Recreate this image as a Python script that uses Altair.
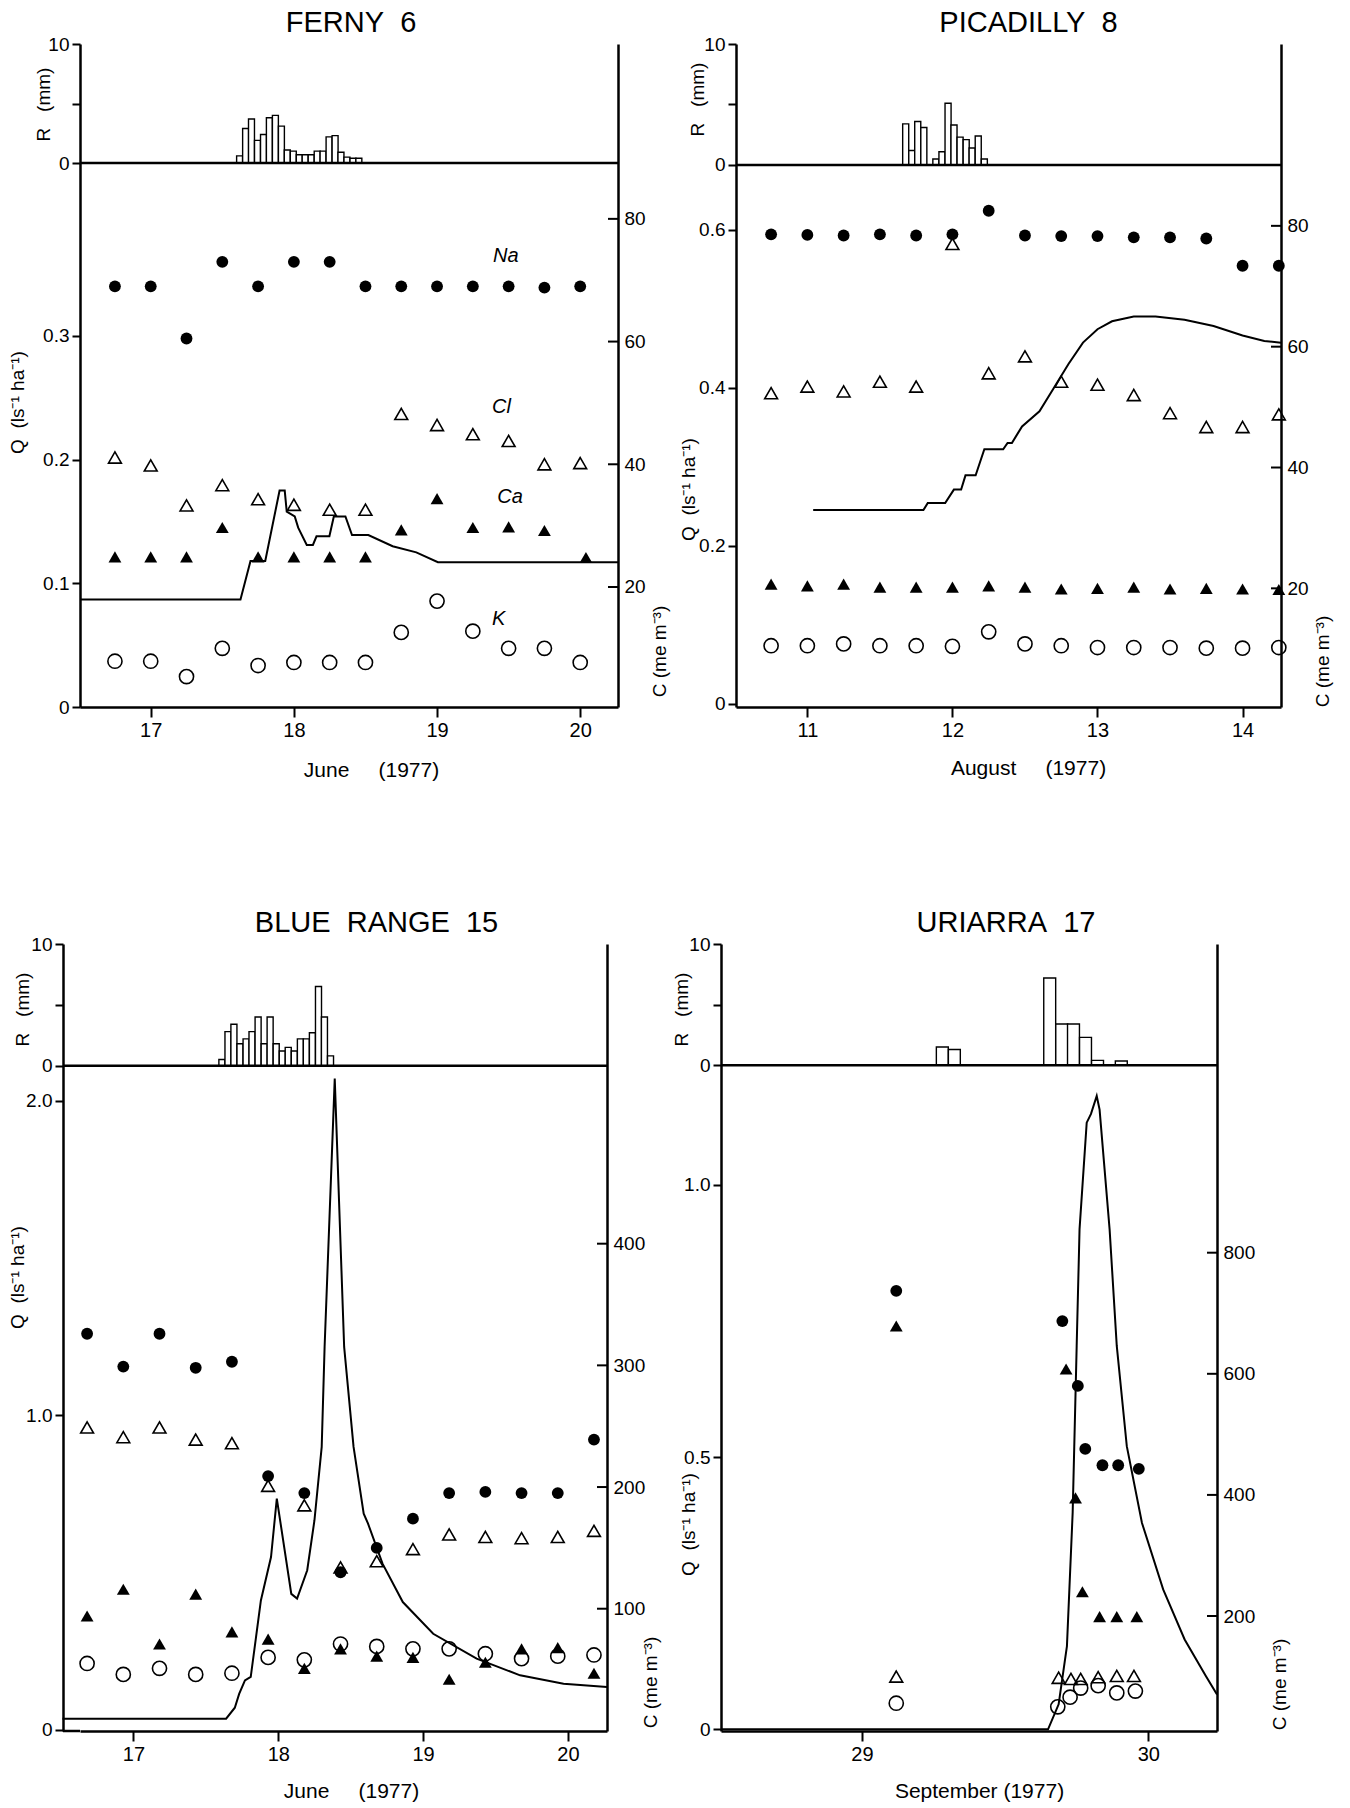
import altair as alt
import pandas as pd

FONT = "Liberation Sans"
NB = "\u00a0"

# ===================== DATA =====================
# ---- FERNY 6 (June 1977) ----
fe_rain_t = [17.600, 17.642, 17.683, 17.725, 17.767, 17.808, 17.850, 17.892, 17.933, 17.975,
             18.017, 18.058, 18.100, 18.142, 18.183, 18.225, 18.267, 18.308, 18.350, 18.392, 18.433]
fe_rain = [0.6, 2.9, 3.7, 1.9, 2.4, 3.8, 4.0, 3.1, 1.1, 1.0, 0.7, 0.7, 0.7, 1.0, 1.0,
           2.2, 2.3, 0.9, 0.5, 0.4, 0.4]
fe_q_t = [16.506, 17.627, 17.697, 17.80, 17.90, 17.936, 17.95, 18.006, 18.03, 18.09, 18.133,
          18.158, 18.248, 18.279, 18.36, 18.406, 18.52, 18.69, 18.855, 19.006, 20.264]
fe_q = [0.087, 0.087, 0.118, 0.118, 0.175, 0.175, 0.158, 0.154, 0.145, 0.131, 0.131,
        0.138, 0.138, 0.154, 0.154, 0.139, 0.139, 0.130, 0.125, 0.117, 0.117]
fe_t = [16.75, 17.0, 17.25, 17.5, 17.75, 18.0, 18.25, 18.5, 18.75, 19.0, 19.25, 19.5, 19.75, 20.0]
fe_na = [69.0, 69.0, 60.5, 73.0, 69.0, 73.0, 73.0, 69.0, 69.0, 69.0, 69.0, 69.0, 68.8, 69.0]
fe_cl = [41.1, 39.8, 33.3, 36.6, 34.3, 33.4, 32.6, 32.6, 48.2, 46.4, 44.9, 43.8, 40.0, 40.2]
fe_ca_t = [16.75, 17.0, 17.25, 17.5, 17.75, 18.0, 18.25, 18.5, 18.75, 19.0, 19.25, 19.5, 19.75, 20.04]
fe_ca = [24.9, 24.9, 24.9, 29.7, 24.9, 24.9, 24.9, 24.9, 29.3, 34.4, 29.7, 29.8, 29.2, 24.8]
fe_k = [7.9, 7.9, 5.4, 10.0, 7.2, 7.7, 7.7, 7.7, 12.6, 17.7, 12.8, 10.0, 10.0, 7.7]
fe_lab = ["Na", "Cl", "Ca", "K"]
fe_lab_t = [19.48, 19.45, 19.51, 19.43]
fe_lab_c = [74.0, 49.4, 34.6, 14.8]

# ---- PICADILLY 8 (August 1977) ----
pi_rain_t = [11.657, 11.699, 11.740, 11.782, 11.865, 11.907, 11.949, 11.990, 12.032,
             12.074, 12.115, 12.157, 12.199]
pi_rain = [3.4, 1.2, 3.6, 3.1, 0.5, 1.1, 5.1, 3.3, 2.3, 2.1, 1.4, 2.4, 0.5]
pi_q_t = [11.04, 11.80, 11.83, 11.95, 12.01, 12.06, 12.09, 12.16, 12.22, 12.35, 12.38, 12.41,
          12.48, 12.6, 12.7, 12.8, 12.9, 13.0, 13.1, 13.25, 13.4, 13.6, 13.8, 14.0, 14.15, 14.265]
pi_q = [0.245, 0.245, 0.254, 0.254, 0.271, 0.271, 0.289, 0.289, 0.322, 0.322, 0.330, 0.330,
        0.351, 0.370, 0.400, 0.430, 0.457, 0.474, 0.484, 0.490, 0.490, 0.486, 0.478, 0.466, 0.459, 0.457]
pi_t = [10.75, 11.0, 11.25, 11.5, 11.75, 12.0, 12.25, 12.5, 12.75, 13.0, 13.25, 13.5, 13.75, 14.0, 14.25]
pi_na = [78.6, 78.5, 78.4, 78.6, 78.4, 78.6, 82.5, 78.4, 78.3, 78.3, 78.1, 78.1, 77.9, 73.4, 73.4]
pi_cl = [52.3, 53.4, 52.6, 54.2, 53.4, 77.0, 55.6, 58.4, 54.2, 53.7, 52.0, 49.0, 46.7, 46.7, 48.8]
pi_ca = [20.7, 20.4, 20.7, 20.2, 20.2, 20.2, 20.4, 20.2, 19.9, 20.0, 20.2, 19.9, 20.0, 19.9, 19.8]
pi_k = [10.5, 10.5, 10.8, 10.5, 10.5, 10.4, 12.8, 10.8, 10.5, 10.2, 10.2, 10.2, 10.1, 10.1, 10.2]

# ---- BLUE RANGE 15 (June 1977) ----
br_rain_t = [17.590, 17.632, 17.673, 17.715, 17.757, 17.798, 17.840, 17.882, 17.923, 17.965,
             18.007, 18.048, 18.090, 18.132, 18.173, 18.215, 18.257, 18.298, 18.340]
br_rain = [0.5, 2.8, 3.4, 1.8, 2.2, 2.8, 4.0, 1.8, 4.0, 1.8, 1.2, 1.5, 1.2, 2.2, 2.2, 2.7, 6.5, 4.0, 0.8]
br_q_t = [16.51, 17.64, 17.70, 17.73, 17.77, 17.81, 17.88, 17.95, 17.99, 18.09, 18.13, 18.20,
          18.25, 18.30, 18.32, 18.39, 18.455, 18.52, 18.59, 18.62, 18.72, 18.86, 19.07, 19.37,
          19.67, 19.97, 20.27]
br_q = [0.035, 0.035, 0.07, 0.114, 0.157, 0.168, 0.411, 0.549, 0.735, 0.432, 0.417, 0.507,
        0.666, 0.899, 1.217, 2.07, 1.217, 0.899, 0.687, 0.655, 0.528, 0.406, 0.305, 0.226,
        0.173, 0.146, 0.136]
br_t = [16.68, 16.93, 17.18, 17.43, 17.68, 17.93, 18.18, 18.43, 18.68, 18.93, 19.18, 19.43,
        19.68, 19.93, 20.18]
br_na = [326, 299, 326, 298, 303, 209, 195, 130, 150, 174, 195, 196, 195, 195, 239]
br_cl = [249, 241, 249, 239, 236, 201, 185, 134, 139, 149, 161, 159, 158, 159, 164]
br_ca = [94, 116, 71, 112, 81, 75, 51, 67, 61, 60, 42, 56, 67, 68, 47]
br_k = [55, 46, 51, 46, 47, 60, 58, 71, 69, 67, 67, 63, 59, 61, 62]

# ---- URIARRA 17 (September 1977) ----
ur_rain_t = [29.260, 29.302, 29.635, 29.677, 29.718, 29.760, 29.802, 29.885]
ur_rain = [1.5, 1.3, 7.2, 3.4, 3.4, 2.3, 0.4, 0.35]
ur_q_t = [28.51, 29.65, 29.687, 29.716, 29.736, 29.75, 29.76, 29.785, 29.80, 29.82, 29.83,
          29.865, 29.89, 29.925, 29.978, 30.052, 30.127, 30.201, 30.24]
ur_q = [0.0, 0.0, 0.046, 0.153, 0.398, 0.704, 0.918, 1.114, 1.13, 1.163, 1.138, 0.918, 0.704,
        0.520, 0.379, 0.257, 0.165, 0.098, 0.064]
ur_na_t = [29.12, 29.70, 29.754, 29.78, 29.84, 29.895, 29.967]
ur_na = [737, 687, 580, 476, 449, 449, 443]
ur_ca_t = [29.12, 29.713, 29.746, 29.77, 29.83, 29.89, 29.96]
ur_ca = [679, 608, 395, 240, 199, 199, 199]
ur_cl_t = [29.12, 29.687, 29.73, 29.764, 29.825, 29.89, 29.95]
ur_cl = [100, 98, 96, 96, 99, 101, 101]
ur_k_t = [29.12, 29.684, 29.727, 29.764, 29.825, 29.89, 29.955]
ur_k = [56, 50, 66, 81, 85, 73, 76]


# ===================== BUILD =====================
def df(**cols):
    return pd.DataFrame(cols)


def panel(p):
    W, H = p["W"], p["H"]
    off = p.get("off", 0)
    xs = alt.Scale(domain=p["xdom"], nice=False, zero=False)
    rs = alt.Scale(domain=p["rdom"], nice=False, zero=False)
    qs = alt.Scale(domain=p["qdom"], nice=False, zero=False)
    cs = alt.Scale(domain=p["cdom"], nice=False, zero=False)

    common = dict(grid=False, domainColor="black", tickColor="black", labelColor="black",
                  labelFont=FONT, titleFont=FONT, titleColor="black", titleFontWeight="normal")

    xaxis = alt.Axis(values=p["xvals"], format="d", title=p["xtitle"], tickSize=10, tickWidth=2,
                     domainWidth=2.5, labelFontSize=20, labelPadding=3, titleFontSize=21,
                     titleX=p["xt"][0], titleY=p["xt"][1], titleAlign="center",
                     titleBaseline="middle", labelOverlap=False, **common)
    raxis = alt.Axis(orient="left", values=[0, 5, 10], offset=off,
                     labelExpr="datum.value == 5 ? '' : datum.label",
                     domain=False, tickSize=8, tickWidth=2, labelFontSize=19, labelPadding=3,
                     title="R" + NB * 3 + "(mm)", titleFontSize=19, titleAngle=270,
                     titleX=p["rt"][0], titleY=p["rt"][1], titleAlign="center",
                     titleBaseline="middle", labelOverlap=False, **common)
    qaxis = alt.Axis(orient="left", values=p["qvals"], format=".1f", offset=off,
                     labelExpr="datum.value == 0 ? '0' : datum.label",
                     domainWidth=2.5, tickSize=8, tickWidth=2, labelFontSize=19, labelPadding=3,
                     title="Q" + NB * 2 + "(ls\u207b\u00b9 ha\u207b\u00b9)", titleFontSize=19,
                     titleAngle=270, titleX=p["qt"][0], titleY=p["qt"][1], titleAlign="center",
                     titleBaseline="middle", labelOverlap=False, **common)
    caxis = alt.Axis(orient="right", values=p["cvals"], format="d", ticks=False,
                     domainWidth=2.5, labelFontSize=19, labelPadding=6,
                     title="C (me m\u207b\u00b3)", titleFontSize=19, titleAngle=270,
                     titleX=p["ct"][0], titleY=p["ct"][1], titleAlign="center",
                     titleBaseline="middle", labelOverlap=False, **common)

    X = lambda: alt.X("t:Q", scale=xs, axis=xaxis)

    # rainfall
    rd = df(t=p["rain_t"], t2=[v + 1 / 24 for v in p["rain_t"]], r=p["rain"])
    bars = alt.Chart(rd).mark_bar(fill="white", stroke="black", strokeWidth=1.4).encode(
        x=X(), x2="t2:Q", y=alt.Y("r:Q", scale=rs, axis=raxis), y2=alt.datum(0))
    base = alt.Chart(df(r=[0])).mark_rule(color="black", strokeWidth=2.5).encode(
        y=alt.Y("r:Q", scale=rs, axis=raxis), x=alt.value(-off), x2=alt.value(W))
    rain_parts = [bars, base]
    if off:
        # continue the bottom axis line out to the displaced left axis
        rain_parts.append(alt.Chart(df(r=[0])).mark_rule(color="black", strokeWidth=2.5).encode(
            y=alt.value(H), x=alt.value(-off), x2=alt.value(0)))
    rain_layer = alt.layer(*rain_parts)

    # discharge
    qline = alt.Chart(df(t=p["q_t"], q=p["q"])).mark_line(color="black", strokeWidth=2).encode(
        x=X(), y=alt.Y("q:Q", scale=qs, axis=qaxis))

    # concentrations
    C = lambda: alt.Y("c:Q", scale=cs, axis=caxis)
    na = alt.Chart(df(t=p["na"][0], c=p["na"][1])).mark_point(
        shape="circle", filled=True, color="black", size=140, opacity=1).encode(x=X(), y=C())
    cl = alt.Chart(df(t=p["cl"][0], c=p["cl"][1])).mark_point(
        shape="triangle-up", filled=False, color="black", size=165, strokeWidth=1.6,
        opacity=1).encode(x=X(), y=C())
    ca = alt.Chart(df(t=p["ca"][0], c=p["ca"][1])).mark_point(
        shape="triangle-up", filled=True, color="black", size=165, opacity=1).encode(x=X(), y=C())
    kk = alt.Chart(df(t=p["k"][0], c=p["k"][1])).mark_point(
        shape="circle", filled=False, color="black", size=200, strokeWidth=1.6,
        opacity=1).encode(x=X(), y=C())
    cticks = alt.Chart(df(c=p["cvals"])).mark_rule(color="black", strokeWidth=2).encode(
        y=C(), x=alt.value(W - 10), x2=alt.value(W))
    clayers = [na, cl, ca, kk, cticks]
    if p.get("labels"):
        lt, lc, ls = p["labels"]
        clayers.append(alt.Chart(df(t=lt, c=lc, s=ls)).mark_text(
            font=FONT, fontSize=20, fontStyle="italic", color="black", align="center",
            baseline="middle").encode(x=X(), y=C(), text="s:N"))
    c_layer = alt.layer(*clayers)

    return alt.layer(rain_layer, qline, c_layer).resolve_scale(y="independent").properties(
        width=W, height=H,
        title=alt.TitleParams(text=p["title"], font=FONT, fontSize=29, fontWeight="normal",
                              color="black", anchor="middle", frame="group", offset=p["toff"],
                              dx=p["tdx"], baseline="alphabetic"))


p1 = panel(dict(
    title="FERNY" + NB * 2 + "6", W=538, H=663, xdom=[16.506, 20.264], rdom=[-45.7, 10],
    qdom=[0, 0.536], cdom=[0.44, 108.5], qvals=[0, 0.1, 0.2, 0.3], cvals=[20, 40, 60, 80],
    xvals=[17, 18, 19, 20], xtitle="June" + NB * 5 + "(1977)", xt=(291, 63), rt=(-37, 60),
    qt=(-63, 358), ct=(41, 607), toff=-26, tdx=2,
    rain_t=fe_rain_t, rain=fe_rain, q_t=fe_q_t, q=fe_q,
    na=(fe_t, fe_na), cl=(fe_t, fe_cl), ca=(fe_ca_t, fe_ca), k=(fe_t, fe_k),
    labels=(fe_lab_t, fe_lab_c, fe_lab)))

p2 = panel(dict(
    title="PICADILLY" + NB * 2 + "8", W=545, H=663, xdom=[10.508, 14.265], rdom=[-44.8, 10],
    qdom=[-0.0042, 0.835], cdom=[0.36, 110.1], qvals=[0, 0.2, 0.4, 0.6], cvals=[20, 40, 60, 80],
    xvals=[11, 12, 13, 14], xtitle="August" + NB * 5 + "(1977)", xt=(292, 61), rt=(-39, 55),
    qt=(-48, 445), ct=(41, 617), toff=-26, tdx=20,
    rain_t=pi_rain_t, rain=pi_rain, q_t=pi_q_t, q=pi_q,
    na=(pi_t, pi_na), cl=(pi_t, pi_cl), ca=(pi_t, pi_ca), k=(pi_t, pi_k)))

# Blue Range: its left axis sits 17 px left of the Ferny one, so the axis is displaced
p3 = panel(dict(
    title="BLUE" + NB * 2 + "RANGE" + NB * 2 + "15", W=527, H=787, off=17,
    xdom=[16.631, 20.27],
    rdom=[-54.7, 10], qdom=[-0.004, 2.498], cdom=[-0.5, 646.3], qvals=[0, 1.0, 2.0],
    cvals=[100, 200, 300, 400], xvals=[17, 18, 19, 20], xtitle="June" + NB * 5 + "(1977)",
    xt=(271, 60), rt=(-41, 65), qt=(-46, 333), ct=(43, 738), toff=-26, tdx=33,
    rain_t=br_rain_t, rain=br_rain, q_t=br_q_t, q=br_q,
    na=(br_t, br_na), cl=(br_t, br_cl), ca=(br_t, br_ca), k=(br_t, br_k)))

p4 = panel(dict(
    title="URIARRA" + NB * 2 + "17", W=496, H=787, xdom=[28.508, 30.24], rdom=[-54.9, 10],
    qdom=[-0.003, 1.442], cdom=[10.1, 1309.8], qvals=[0, 0.5, 1.0], cvals=[200, 400, 600, 800],
    xvals=[29, 30], xtitle="September (1977)", xt=(258, 60), rt=(-40, 65), qt=(-33, 580),
    ct=(62, 740), toff=-26, tdx=37,
    rain_t=ur_rain_t, rain=ur_rain, q_t=ur_q_t, q=ur_q,
    na=(ur_na_t, ur_na), cl=(ur_cl_t, ur_cl), ca=(ur_ca_t, ur_ca), k=(ur_k_t, ur_k)))

row1 = alt.hconcat(p1, p2, spacing=118, bounds="flush")
row2 = alt.hconcat(p3, p4, spacing=114, bounds="flush")

chart = alt.vconcat(row1, row2, spacing=129).properties(
    padding={"left": 8, "top": 9, "right": 5, "bottom": 5}
).configure(background="white").configure_view(stroke="transparent", strokeOpacity=0,
                                               strokeWidth=0)

chart.save("out.html", embed_options={"renderer": "svg", "actions": False})
